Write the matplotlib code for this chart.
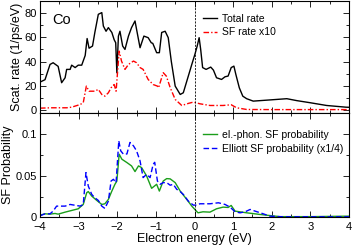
import matplotlib
matplotlib.use("Agg")
import matplotlib.pyplot as plt
import numpy as np
from matplotlib.ticker import MultipleLocator

plt.rcParams['font.family'] = ['Liberation Sans', 'DejaVu Sans']

# total scattering rate (1/ps/eV)
e_tot = [-4.0, -3.87, -3.74, -3.66, -3.53, -3.44, -3.35, -3.31, -3.22, -3.18, -3.09, -3.01,
         -2.92, -2.83, -2.78, -2.73, -2.64, -2.58, -2.49, -2.40, -2.36, -2.29, -2.23, -2.14,
         -2.08, -2.04, -2.01, -1.97, -1.93, -1.86, -1.80, -1.71, -1.63, -1.54, -1.50, -1.41,
         -1.31, -1.20, -1.12, -1.08, -0.98, -0.91, -0.85, -0.76, -0.68, -0.60, -0.50, -0.37,
         -0.29, -0.16, -0.07, 0.01, 0.07, 0.12, 0.16, 0.21, 0.30, 0.42, 0.49, 0.57, 0.70,
         0.79, 0.87, 0.95, 1.02, 1.07, 1.16, 1.25, 1.35, 1.52, 1.87, 2.39, 2.65, 2.99, 3.42,
         3.92, 4.0]
r_tot = [23, 25, 37.6, 39, 36, 22.5, 26.6, 33.5, 33.5, 37, 35, 37,
         37, 45, 59, 51, 52.8, 64, 79, 80.4, 69.3, 65, 68, 64,
         58, 55.5, 30.7, 61, 65, 52.8, 50, 61, 68, 73.5, 66.6, 51.4,
         61, 59.7, 55.5, 55, 47.3, 47.3, 64, 65, 59.7, 40, 19.7, 12.8,
         14.2, 28, 37.6, 45.9, 52.8, 59.7, 50, 35, 33.5, 35.4, 32.9, 26.6, 25.2,
         27.4, 28, 35, 36.2, 29.4, 18.3, 11.4, 9.3, 7.3, 8.1, 9.3, 7.7, 6, 3.7,
         2.3, 2.2]

# spin-flip rate x10
e_sf = [-4.0, -3.7, -3.31, -3.18, -2.96, -2.88, -2.80, -2.73, -2.58, -2.49, -2.40, -2.32,
        -2.23, -2.16, -2.08, -2.03, -2.0, -1.95, -1.89, -1.80, -1.71, -1.58, -1.50, -1.41,
        -1.33, -1.20, -1.07, -0.96, -0.93, -0.81, -0.73, -0.63, -0.50, -0.33, -0.16, -0.03,
        0.14, 0.40, 0.74, 0.95, 1.09, 1.35, 2.0, 3.0, 4.0]
r_sf = [1.5, 1.8, 1.8, 2.3, 4.5, 6, 19.7, 15.5, 15.5, 17, 12.8, 11.4,
        14.2, 18.3, 21, 15.5, 28, 48.6, 40.4, 33.5, 37.6, 40.4, 39, 35,
        33.5, 25.2, 21, 19.7, 18.3, 30.8, 28, 18.5, 8.7, 3.7, 5.4, 6.5,
        5.1, 3.7, 3.7, 4.3, 1.8, 0.4, 0.3, 0.3, 0.3]

# el.-phon. SF probability
e_ep = [-4.0, -3.87, -3.74, -3.61, -3.53, -3.35, -3.18, -3.01, -2.88, -2.79, -2.75, -2.66,
        -2.53, -2.40, -2.32, -2.23, -2.14, -2.06, -2.01, -1.95, -1.88, -1.75, -1.63, -1.54,
        -1.45, -1.37, -1.24, -1.11, -0.98, -0.91, -0.81, -0.72, -0.63, -0.50, -0.37, -0.20,
        -0.07, 0.01, 0.09, 0.22, 0.40, 0.57, 0.74, 0.87, 0.95, 1.05, 1.35, 1.70, 2.21, 3.0,
        4.0]
p_ep = [0.0028, 0.0044, 0.004, 0.0048, 0.004, 0.0064, 0.0084, 0.0104, 0.0156, 0.0297, 0.031, 0.0256,
        0.0204, 0.0156, 0.0164, 0.0216, 0.0316, 0.0397, 0.0436, 0.0757, 0.0697, 0.0657, 0.0617, 0.0549,
        0.0617, 0.0597, 0.0497, 0.0349, 0.0397, 0.0316, 0.0436, 0.0465, 0.0462, 0.0417, 0.0316, 0.0216,
        0.0136, 0.0096, 0.0056, 0.0068, 0.0064, 0.0104, 0.0124, 0.012, 0.0144, 0.0076, 0.0056, 0.0036, 0.001, 0.001,
        0.0016]

# Elliott SF probability (x1/4)
e_el = [-4.0, -3.87, -3.74, -3.66, -3.57, -3.35, -3.22, -2.96, -2.88, -2.81, -2.75, -2.66,
        -2.58, -2.49, -2.40, -2.32, -2.23, -2.16, -2.10, -2.03, -1.96, -1.91, -1.84, -1.75,
        -1.67, -1.58, -1.50, -1.41, -1.33, -1.24, -1.15, -1.07, -1.03, -0.96, -0.89, -0.81,
        -0.72, -0.63, -0.55, -0.46, -0.37, -0.29, -0.16, -0.03, 0.06, 0.14, 0.40, 0.62,
        0.79, 0.92, 1.05, 1.18, 1.31, 1.44, 1.57, 1.78, 1.95, 2.3, 3.0, 4.0]
p_el = [0.002, 0.0044, 0.0044, 0.0076, 0.0136, 0.0136, 0.0156, 0.0136, 0.0156, 0.0537, 0.0376, 0.0276,
        0.0236, 0.0204, 0.0136, 0.0108, 0.0196, 0.0436, 0.0457, 0.0417, 0.0917, 0.0797, 0.0757, 0.076,
        0.0898, 0.0857, 0.0797, 0.0677, 0.0477, 0.0517, 0.0477, 0.0637, 0.066, 0.0436, 0.0397, 0.0417,
        0.0417, 0.0386, 0.0397, 0.0337, 0.031, 0.0276, 0.0196, 0.0148, 0.0148, 0.0164, 0.0164, 0.0176,
        0.0156, 0.0124, 0.0068, 0.0056, 0.0068, 0.0096, 0.0076, 0.0044, 0.0016, 0.0008, 0.0008, 0.0008]

fig = plt.figure(figsize=(3.53, 2.46), dpi=100)
ax1 = fig.add_axes([0.1133, 0.5407, 0.8754, 0.4553])
ax2 = fig.add_axes([0.1133, 0.1159, 0.8754, 0.4248])

ax1.plot(e_tot, r_tot, color='black', lw=1.0, label='Total rate')
ax1.plot(e_sf, r_sf, color='red', lw=1.0, dashes=(4, 1.5, 1, 1.5), label='SF rate x10')
ax1.axvline(0, color='black', lw=0.6, ls=(0, (2.5, 1.5)))
ax1.set_xlim(-4, 4)
ax1.set_ylim(-2.5, 90)
ax1.set_ylabel('Scat. rate (1/ps/eV)', fontsize=9, labelpad=1)
ax1.yaxis.set_major_locator(MultipleLocator(20))
ax1.yaxis.set_minor_locator(MultipleLocator(10))
ax1.tick_params(labelbottom=False)
ax1.text(-3.67, 74, 'Co', fontsize=10.5, va='center')
ax1.legend(loc='upper left', bbox_to_anchor=(0.513, 0.925), frameon=False, fontsize=7.5,
           handlelength=1.35, handletextpad=0.55, labelspacing=0.35, borderaxespad=0)

ax2.plot(e_ep, p_ep, color='#1a9e1a', lw=1.0, label='el.-phon. SF probability')
ax2.plot(e_el, p_el, color='#0000ff', lw=1.0, dashes=(4, 2), label='Elliott SF probability (x1/4)')
ax2.axvline(0, color='black', lw=0.6, ls=(0, (2.5, 1.5)))
ax2.set_xlim(-4, 4)
ax2.set_ylim(0, 0.125)
ax2.set_ylabel('SF Probability', fontsize=9, labelpad=1)
ax2.set_xlabel('Electron energy (eV)', fontsize=9, labelpad=1)
ax2.set_yticks([0, 0.05, 0.1])
ax2.set_yticklabels(['0', '0.05', '0.1'])
ax2.yaxis.set_minor_locator(MultipleLocator(0.025))
ax2.legend(loc='upper left', bbox_to_anchor=(0.513, 0.877), frameon=False, fontsize=7.5,
           handlelength=1.35, handletextpad=0.55, labelspacing=0.35, borderaxespad=0)

for ax in (ax1, ax2):
    ax.xaxis.set_major_locator(MultipleLocator(1))
    ax.xaxis.set_minor_locator(MultipleLocator(0.5))
    ax.tick_params(which='both', direction='in', top=True, right=True, labelsize=8, width=0.6)
    ax.tick_params(which='major', length=4)
    ax.tick_params(which='minor', length=2)
    ax.tick_params(axis='y', pad=2)
    ax.tick_params(axis='x', pad=3)
    for s in ax.spines.values():
        s.set_linewidth(0.8)

fig.savefig('out.png', dpi=100)
